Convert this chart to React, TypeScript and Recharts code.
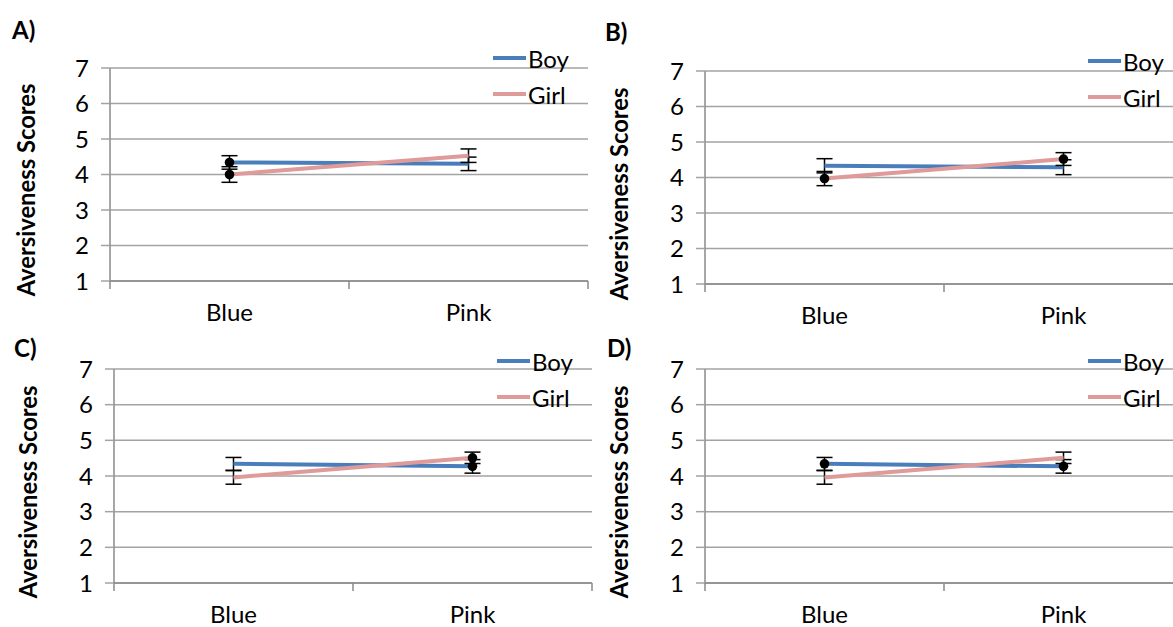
import React from "react";
import { LineChart, Line, XAxis, YAxis, CartesianGrid, ErrorBar, Legend } from "recharts";

const categories = ["Blue", "Pink"];
const seriesNames = ["Boy", "Girl"];
const yTicks = [1, 2, 3, 4, 5, 6, 7];

// panel A
const boyA = [4.34, 4.3];
const girlA = [4.0, 4.53];
const boyErrA = [0.19, 0.19];
const girlErrA = [0.22, 0.19];
const boyDotsA = [true, false];
const girlDotsA = [true, false];

// panel B
const boyB = [4.33, 4.29];
const girlB = [3.97, 4.52];
const boyErrB = [0.2, 0.21];
const girlErrB = [0.2, 0.18];
const boyDotsB = [false, false];
const girlDotsB = [true, true];

// panel C
const boyC = [4.34, 4.27];
const girlC = [3.96, 4.51];
const boyErrC = [0.18, 0.19];
const girlErrC = [0.19, 0.16];
const boyDotsC = [false, true];
const girlDotsC = [false, true];

// panel D
const boyD = [4.34, 4.27];
const girlD = [3.96, 4.51];
const boyErrD = [0.18, 0.19];
const girlErrD = [0.19, 0.16];
const boyDotsD = [true, true];
const girlDotsD = [false, false];

const BOY = "#4a7ebb";
const GIRL = "#df9a9a";
const GRID = "#a3a3a3";
const AXIS = "#8a8a8a";
const FONT = 'Lato, "Open Sans", sans-serif';
const FS = 24;

const panels = [
  {
    title: "A)", boy: boyA, girl: girlA, boyErr: boyErrA, girlErr: girlErrA, boyDots: boyDotsA, girlDots: girlDotsA,
    box: { left: 0, top: 0, width: 595, height: 330 },
    plot: { left: 110, right: 588, top: 68, bottom: 281 },
    legend: { left: 493, top: 40 }, yLabel: { x: 25, y: 190 }, titlePos: { left: 12, top: 16 },
  },
  {
    title: "B)", boy: boyB, girl: girlB, boyErr: boyErrB, girlErr: girlErrB, boyDots: boyDotsB, girlDots: girlDotsB,
    box: { left: 595, top: 0, width: 595, height: 330 },
    plot: { left: 705, right: 1183, top: 71, bottom: 284 },
    legend: { left: 1088, top: 43 }, yLabel: { x: 618, y: 194 }, titlePos: { left: 605, top: 18 },
  },
  {
    title: "C)", boy: boyC, girl: girlC, boyErr: boyErrC, girlErr: girlErrC, boyDots: boyDotsC, girlDots: girlDotsC,
    box: { left: 0, top: 330, width: 597, height: 297 },
    plot: { left: 114, right: 592, top: 369, bottom: 583 },
    legend: { left: 497, top: 343 }, yLabel: { x: 27, y: 492 }, titlePos: { left: 14, top: 334 },
  },
  {
    title: "D)", boy: boyD, girl: girlD, boyErr: boyErrD, girlErr: girlErrD, boyDots: boyDotsD, girlDots: girlDotsD,
    box: { left: 595, top: 330, width: 595, height: 297 },
    plot: { left: 705, right: 1183, top: 369, bottom: 583 },
    legend: { left: 1088, top: 343 }, yLabel: { x: 618, y: 492 }, titlePos: { left: 607, top: 334 },
  },
];

const X_AXIS_H = 40;

const XTick = (props: any) => {
  const { x, y, payload } = props;
  const v = payload.value;
  if (Number.isInteger(v)) {
    return <line x1={x} x2={x} y1={y - 8} y2={y} stroke={AXIS} strokeWidth={1.5} />;
  }
  return (
    <text x={x} y={y + 15} dy="0.71em" textAnchor="middle" fill="#000" fontSize={FS} fontFamily={FONT}>
      {categories[Math.floor(v)]}
    </text>
  );
};

const renderDot = (flags: boolean[]) => (props: any) => {
  const { cx, cy, index } = props;
  if (!flags[index]) return <g key={`n${index}`} />;
  return <circle key={`d${index}`} cx={cx} cy={cy} r={4.8} fill="#000" />;
};

const renderLegend = () => (
  <div style={{ fontFamily: FONT, fontSize: FS, color: "#000" }}>
    {seriesNames.map((n, i) => (
      <div key={n} style={{ display: "flex", alignItems: "center", height: 36 }}>
        <div style={{ width: 33, height: 4, background: i === 0 ? BOY : GIRL, marginRight: 2 }} />
        <span style={{ whiteSpace: "nowrap" }}>{n}</span>
      </div>
    ))}
  </div>
);

function Panel({ p }: { p: (typeof panels)[number] }) {
  const rows = categories.map((c, i) => ({
    x: i + 0.5,
    name: c,
    boy: p.boy[i],
    girl: p.girl[i],
    boyErr: p.boyErr[i],
    girlErr: p.girlErr[i],
  }));
  const { box, plot } = p;
  const margin = {
    top: plot.top - box.top,
    right: box.left + box.width - plot.right,
    left: 0,
    bottom: box.top + box.height - plot.bottom - X_AXIS_H,
  };
  const lx = p.yLabel.x - box.left;
  const ly = p.yLabel.y - box.top;
  return (
    <div style={{ position: "absolute", left: box.left, top: box.top }}>
      <LineChart width={box.width} height={box.height} data={rows} margin={margin}>
        <CartesianGrid vertical={false} stroke={GRID} strokeWidth={1.5} />
        <XAxis
          dataKey="x"
          type="number"
          domain={[0, 2]}
          ticks={[0, 0.5, 1, 1.5, 2]}
          interval={0}
          height={X_AXIS_H}
          tickSize={8}
          tickMargin={0}
          tickLine={false}
          tick={<XTick />}
          axisLine={{ stroke: AXIS, strokeWidth: 1.5 }}
        />
        <YAxis
          type="number"
          domain={[1, 7]}
          ticks={yTicks}
          interval={0}
          width={plot.left - box.left}
          tickSize={9}
          tickMargin={12}
          axisLine={{ stroke: AXIS, strokeWidth: 1.5 }}
          tickLine={{ stroke: GRID, strokeWidth: 1.5 }}
          tick={{ fill: "#000", fontSize: FS, fontFamily: FONT }}
          label={() => (
            <text
              x={lx}
              y={ly}
              transform={`rotate(-90 ${lx} ${ly})`}
              textAnchor="middle"
              dominantBaseline="central"
              fontWeight="bold"
              fontSize={24}
              fontFamily={FONT}
              textLength={213}
              lengthAdjust="spacingAndGlyphs"
              fill="#000"
            >
              Aversiveness Scores
            </text>
          )}
        />
        <Legend
          layout="vertical"
          align="center"
          verticalAlign="middle"
          content={renderLegend}
          wrapperStyle={{ left: p.legend.left - box.left, top: p.legend.top - box.top, width: "auto", height: "auto" }}
        />
        <Line
          dataKey="boy"
          name={seriesNames[0]}
          stroke={BOY}
          strokeWidth={4}
          dot={renderDot(p.boyDots)}
          activeDot={false}
          isAnimationActive={false}
        >
          <ErrorBar dataKey="boyErr" direction="y" width={8} stroke="#000" strokeWidth={1.5} />
        </Line>
        <Line
          dataKey="girl"
          name={seriesNames[1]}
          stroke={GIRL}
          strokeWidth={4}
          dot={renderDot(p.girlDots)}
          activeDot={false}
          isAnimationActive={false}
        >
          <ErrorBar dataKey="girlErr" direction="y" width={8} stroke="#000" strokeWidth={1.5} />
        </Line>
      </LineChart>
    </div>
  );
}

export default function App() {
  return (
    <div
      style={{
        position: "absolute",
        left: 0,
        top: 0,
        width: 1173,
        height: 627,
        overflow: "hidden",
        background: "#fff",
      }}
    >
      {panels.map((p) => (
        <Panel key={p.title} p={p} />
      ))}
      {panels.map((p) => (
        <div
          key={"t" + p.title}
          style={{
            position: "absolute",
            left: p.titlePos.left,
            top: p.titlePos.top,
            fontFamily: FONT,
            fontWeight: "bold",
            fontSize: 24,
            lineHeight: "28px",
          }}
        >
          {p.title}
        </div>
      ))}
    </div>
  );
}
